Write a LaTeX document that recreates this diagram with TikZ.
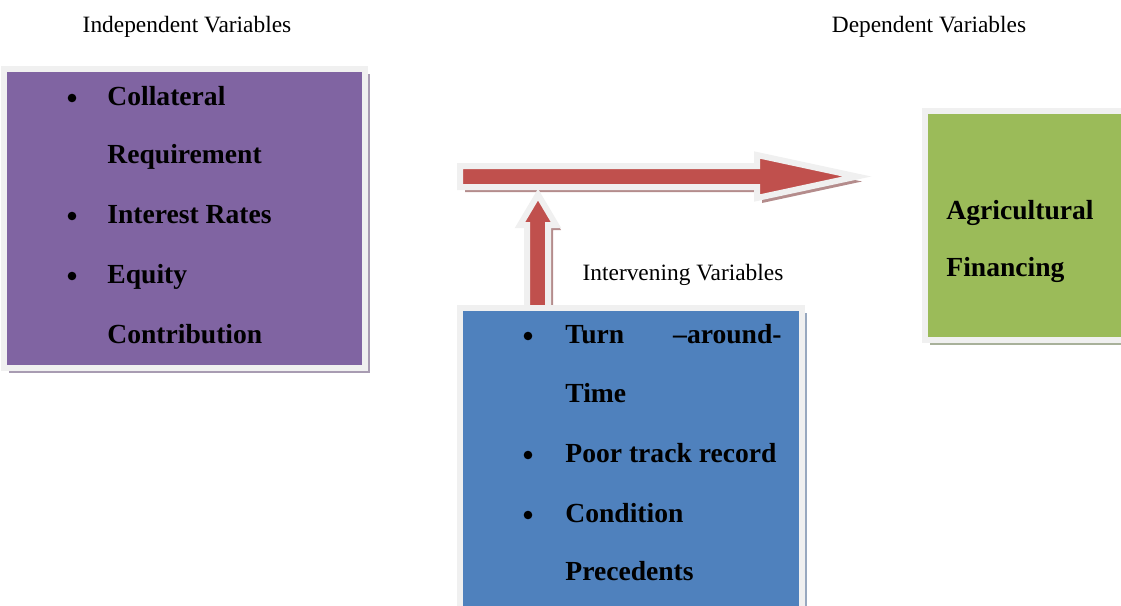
\documentclass[tikz,border=0pt]{standalone}
\usepackage{fontspec}
\setmainfont{Liberation Serif}
\usetikzlibrary{shadows}
\definecolor{purplefill}{HTML}{8064A2}
\definecolor{bluefill}{HTML}{4F81BD}
\definecolor{greenfill}{HTML}{9BBB59}
\definecolor{redfill}{HTML}{C0504D}
\definecolor{rimgray}{HTML}{F0F0F0}
\definecolor{purpleshd}{HTML}{A89CB2}
\definecolor{blueshd}{HTML}{98A8BF}
\definecolor{greenshd}{HTML}{A8B19A}
\definecolor{redshd}{HTML}{B48C8C}
\tikzset{
  panel/.style 2 args={draw=rimgray, line width=3pt, line join=miter, fill=#1,
    drop shadow={shadow xshift=2.5pt, shadow yshift=-2.5pt, fill=#2, opacity=1}},
  varbox/.style 2 args={panel={#1}{#2}, rectangle, inner sep=0pt},
  itemtext/.style={anchor=base west, inner sep=0pt, font=\fontsize{13.8}{16}\selectfont\bfseries},
  bul/.style={circle, fill=black, inner sep=0pt, minimum size=4.3pt},
  vartitle/.style={anchor=base, inner sep=0pt, font=\fontsize{11.7}{14}\selectfont}
}
\begin{document}
\begin{tikzpicture}[x=0.5pt, y=-0.5pt]
    \useasboundingbox (0,0) rectangle (1121,606);
    \clip (0,0) rectangle (1121,606);

    \node[vartitle] (indeptitle) at (187,32) {Independent Variables};
    \node[vartitle] (deptitle) at (929,32) {Dependent Variables};
    \node[vartitle] (intvtitle) at (683,280) {Intervening Variables};

    \node[varbox={purplefill}{purpleshd}, minimum width=180.5pt, minimum height=149.5pt] (indep) at (184.5,218.5) {};
    \node[varbox={greenfill}{greenshd}, minimum width=105pt, minimum height=114.5pt] (dep) at (1030,225.5) {};

    \coordinate (htip) at (857,176.5);
    \draw[panel={redfill}{redshd}] (460,166) -- (757,166) -- (757,155) -- (htip) -- (757,198) -- (757,187) -- (460,187) -- cycle;
    \coordinate (vtip) at (538,194.6);
    \draw[panel={redfill}{redshd}] (527,310) -- (527,225) -- (520,225) -- (vtip) -- (556,225) -- (548,225) -- (548,310) -- cycle;

    \node[varbox={bluefill}{blueshd}, minimum width=171pt, minimum height=156pt] (intv) at (631,464) {};

    \foreach \t/\y [count=\i] in {Collateral/105, Requirement/163, Interest Rates/223, Equity/283, Contribution/343}{
        \node[itemtext] (indep-\i) at (107,\y) {\t};
    }
    \foreach \y [count=\i] in {98, 216, 276}{
        \node[bul] (indepbul-\i) at (72,\y) {};
    }

    \node[itemtext] (intv-1) at (565,343) {Turn};
    \node[itemtext, anchor=base east] (intv-1b) at (782,343) {--around-};
    \foreach \t/\y [count=\i from 2] in {Time/402, Poor track record/462, Condition/522, Precedents/580}{
        \node[itemtext] (intv-\i) at (565,\y) {\t};
    }
    \foreach \y [count=\i] in {336, 455, 515}{
        \node[bul] (intvbul-\i) at (528,\y) {};
    }

    \node[itemtext] (dep-1) at (946,219) {Agricultural};
    \node[itemtext] (dep-2) at (946,276) {Financing};
\end{tikzpicture}
\end{document}
